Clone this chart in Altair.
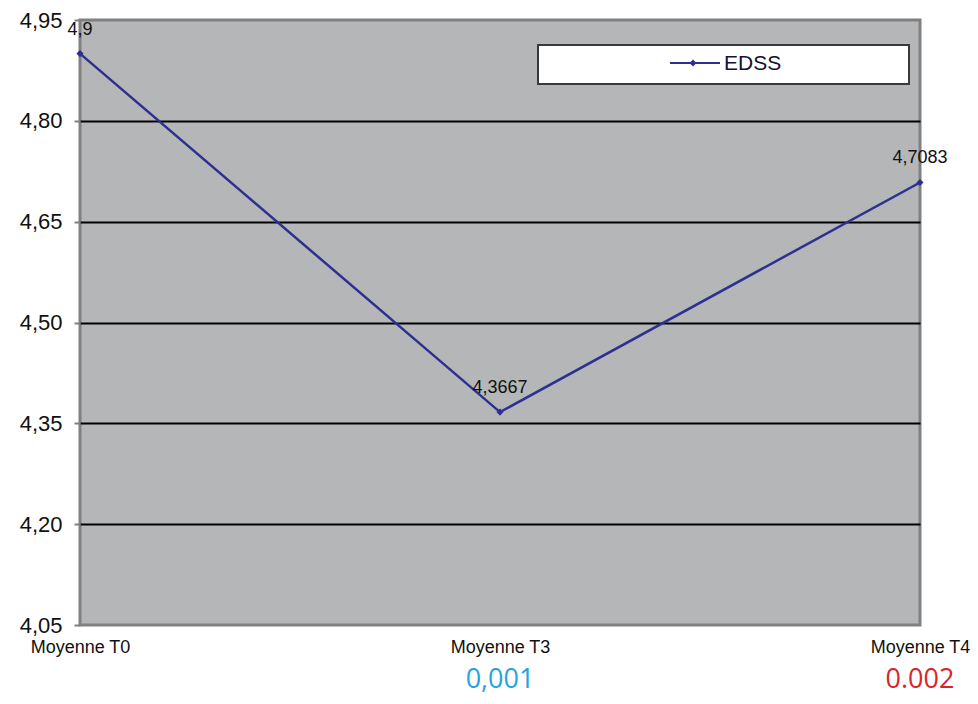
import altair as alt
import pandas as pd

# ---- data ----
categories = ["Moyenne T0", "Moyenne T3", "Moyenne T4"]
edss = [4.9, 4.3667, 4.7083]
value_labels = ["4,9", "4,3667", "4,7083"]
p_values = ["", "0,001", "0.002"]
p_colors = ["#ffffff", "#27a3dc", "#d8252d"]
y_ticks = [4.05, 4.20, 4.35, 4.50, 4.65, 4.80, 4.95]
series_name = ["EDSS"]

df = pd.DataFrame({"cat": categories, "edss": edss, "lab": value_labels})
dfp = pd.DataFrame({"cat": categories, "p": p_values, "pc": p_colors})
dfl = pd.DataFrame({"series": series_name})

W, H = 840, 605
LINE = "#2d3091"
FONT = "Liberation Sans"

x_enc = alt.X(
    "cat:N",
    sort=categories,
    scale=alt.Scale(type="point", padding=0, domain=categories),
    axis=alt.Axis(
        title=None, labelAngle=0, ticks=False, domain=False, grid=False,
        labelFont=FONT, labelFontSize=18, labelColor="#111111",
        labelPadding=13, labelBaseline="top",
    ),
)
y_enc = alt.Y(
    "edss:Q",
    scale=alt.Scale(domain=[4.05, 4.95], nice=False, zero=False),
    axis=alt.Axis(
        title=None, values=y_ticks,
        labelExpr="replace(format(datum.value, '.2f'), '.', ',')",
        labelFont=FONT, labelFontSize=22, labelColor="#111111",
        labelPadding=12, tickSize=6, tickWidth=2, tickColor="#808080",
        domain=False,
        grid=True, gridWidth=2,
        gridColor={"condition": {"test": "datum.value < 4.1 || datum.value > 4.9",
                                 "value": "rgba(0,0,0,0)"},
                   "value": "#000000"},
    ),
)

base = alt.Chart(df)

line = base.mark_line(color=LINE, strokeWidth=2.5).encode(x=x_enc, y=y_enc)
pts = base.mark_point(shape="diamond", filled=True, size=50, color=LINE, opacity=1).encode(
    x="cat:N", y="edss:Q")
labels = base.mark_text(font=FONT, fontSize=18, color="#111111", dy=-24,
                        align="center", baseline="middle").encode(
    x="cat:N", y="edss:Q", text="lab:N")

pv = alt.Chart(dfp).mark_text(font="Open Sans", fontSize=27, align="center",
                              baseline="middle").encode(
    x="cat:N", y=alt.value(H + 55), text="p:N",
    color=alt.Color("pc:N", scale=None))

# legend box (decoration)
leg_box = alt.Chart(dfl).mark_rect(fill="white", stroke="#3a3a3a", strokeWidth=2).encode(
    x=alt.value(458), x2=alt.value(829), y=alt.value(25), y2=alt.value(64))
leg_line = alt.Chart(dfl).mark_rule(color=LINE, strokeWidth=2).encode(
    x=alt.value(590), x2=alt.value(640), y=alt.value(43))
leg_pt = alt.Chart(dfl).mark_point(shape="diamond", filled=True, size=50, color=LINE,
                                   opacity=1).encode(x=alt.value(613), y=alt.value(43))
leg_txt = alt.Chart(dfl).mark_text(font=FONT, fontSize=21, color="#111133", align="left",
                                   baseline="middle").encode(
    x=alt.value(644), y=alt.value(44), text="series:N")

chart = alt.layer(line, pts, labels, pv, leg_box, leg_line, leg_pt, leg_txt).properties(
    width=W, height=H,
    autosize=alt.AutoSizeParams(type="none"),
    padding={"left": 72, "top": 12, "right": 50, "bottom": 71},
).configure(
    background="white",
    view=alt.ViewConfig(fill="#b5b6b8", stroke="#808080", strokeWidth=3),
)

chart.save("out.html", embed_options={"renderer": "svg", "actions": False})
